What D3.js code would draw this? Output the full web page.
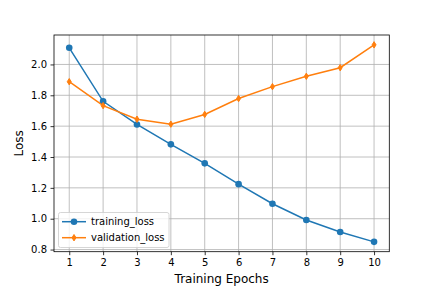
<!DOCTYPE html>
<html>
<head>
<meta charset="utf-8">
<script src="https://cdn.jsdelivr.net/npm/d3@7"></script>
<style>
  body { margin: 0; background: #fff; }
  text { font-family: "DejaVu Sans", sans-serif; fill: #000; }
</style>
</head>
<body>
<div id="chart"></div>
<script>
const width = 432;
const height = 288;

// Data
const epochs = [1, 2, 3, 4, 5, 6, 7, 8, 9, 10];
const trainingLoss = [2.108, 1.761, 1.611, 1.482, 1.359, 1.224, 1.097, 0.992, 0.914, 0.850];
const validationLoss = [1.888, 1.733, 1.645, 1.613, 1.676, 1.779, 1.856, 1.923, 1.979, 2.127];
const yTicks = [0.8, 1.0, 1.2, 1.4, 1.6, 1.8, 2.0];

const margin = { left: 54, right: 432 - 389.3, top: 35, bottom: 288 - 251.7 };

const svg = d3.select("#chart").append("svg")
  .attr("width", width)
  .attr("height", height);

// matplotlib style 5% margins
const xPad = (d3.max(epochs) - d3.min(epochs)) * 0.05;
const allY = trainingLoss.concat(validationLoss);
const yPad = (d3.max(allY) - d3.min(allY)) * 0.05;

const x = d3.scaleLinear()
  .domain([d3.min(epochs) - xPad, d3.max(epochs) + xPad])
  .range([margin.left, width - margin.right]);

const y = d3.scaleLinear()
  .domain([d3.min(allY) - yPad, d3.max(allY) + yPad])
  .range([height - margin.bottom, margin.top]);

// Grid
const grid = svg.append("g").attr("stroke", "#b0b0b0").attr("stroke-width", 0.8);
grid.selectAll(".gx").data(epochs).join("line")
  .attr("x1", d => x(d)).attr("x2", d => x(d))
  .attr("y1", margin.top).attr("y2", height - margin.bottom);
grid.selectAll(".gy").data(yTicks).join("line")
  .attr("x1", margin.left).attr("x2", width - margin.right)
  .attr("y1", d => y(d)).attr("y2", d => y(d));

// Axes
const xAxis = svg.append("g")
  .attr("transform", `translate(0,${height - margin.bottom})`)
  .call(d3.axisBottom(x).tickValues(epochs).tickFormat(d3.format("d")).tickSize(3.5).tickPadding(3.5));
const yAxis = svg.append("g")
  .attr("transform", `translate(${margin.left},0)`)
  .call(d3.axisLeft(y).tickValues(yTicks).tickFormat(d3.format(".1f")).tickSize(3.5).tickPadding(3.5));

[xAxis, yAxis].forEach(a => {
  a.select(".domain").remove();
  a.selectAll(".tick line").attr("stroke", "#000").attr("stroke-width", 0.8);
  a.selectAll("text").attr("font-size", 10).attr("font-family", "DejaVu Sans").attr("fill", "#262626");
});

// Frame
svg.append("rect")
  .attr("x", margin.left).attr("y", margin.top)
  .attr("width", width - margin.left - margin.right)
  .attr("height", height - margin.top - margin.bottom)
  .attr("fill", "none").attr("stroke", "#000").attr("stroke-width", 0.8);

const line = d3.line().x((d, i) => x(epochs[i])).y(d => y(d));

const series = [
  { name: "training_loss", values: trainingLoss, color: "#1f77b4", marker: "circle" },
  { name: "validation_loss", values: validationLoss, color: "#ff7f0e", marker: "diamond" }
];

function drawMarker(g, type, color) {
  if (type === "circle") {
    g.append("circle").attr("r", 3.3).attr("fill", color);
  } else {
    g.append("path").attr("d", "M0,-3.2L2,0L0,3.2L-2,0Z")
      .attr("fill", color).attr("stroke", color).attr("stroke-width", 1).attr("stroke-linejoin", "round");
  }
}

series.forEach(s => {
  svg.append("path")
    .datum(s.values)
    .attr("d", line)
    .attr("fill", "none")
    .attr("stroke", s.color)
    .attr("stroke-width", 1.5);
  svg.append("g").selectAll("g").data(s.values).join("g")
    .attr("transform", (d, i) => `translate(${x(epochs[i])},${y(d)})`)
    .each(function () { drawMarker(d3.select(this), s.marker, s.color); });
});

// Axis labels
svg.append("text")
  .attr("x", (margin.left + width - margin.right) / 2)
  .attr("y", 283)
  .attr("text-anchor", "middle")
  .attr("font-size", 12)
  .text("Training Epochs");
svg.append("text")
  .attr("transform", `translate(23,${(margin.top + height - margin.bottom) / 2}) rotate(-90)`)
  .attr("text-anchor", "middle")
  .attr("font-size", 12)
  .text("Loss");

// Legend
const legend = svg.append("g");
legend.append("rect")
  .attr("x", 58.5).attr("y", 212.5)
  .attr("width", 110.5).attr("height", 35)
  .attr("rx", 2)
  .attr("fill", "#fff").attr("fill-opacity", 0.8)
  .attr("stroke", "#cccccc").attr("stroke-width", 0.8);
series.forEach((s, i) => {
  const ly = 221.7 + i * 16;
  legend.append("line")
    .attr("x1", 62).attr("x2", 86).attr("y1", ly).attr("y2", ly)
    .attr("stroke", s.color).attr("stroke-width", 1.5);
  const m = legend.append("g").attr("transform", `translate(74,${ly})`);
  drawMarker(m, s.marker, s.color);
  legend.append("text")
    .attr("x", 91).attr("y", ly)
    .attr("dy", "0.35em")
    .attr("font-size", 10)
    .text(s.name);
});
</script>
</body>
</html>
